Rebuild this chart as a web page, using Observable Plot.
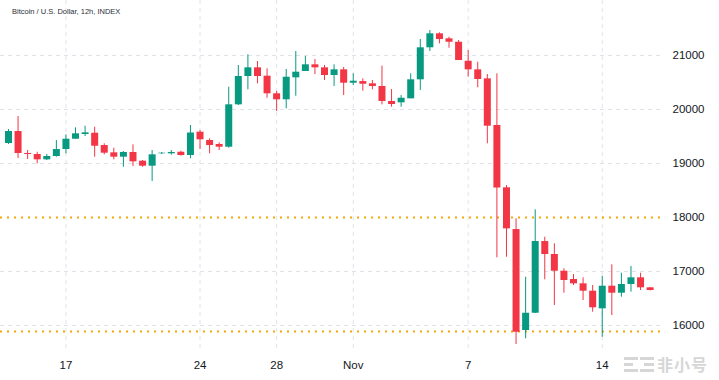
<!DOCTYPE html>
<html>
<head>
<meta charset="utf-8">
<script src="https://cdn.jsdelivr.net/npm/d3@7"></script>
<script src="https://cdn.jsdelivr.net/npm/@observablehq/plot@0.6"></script>
<style>
  body { margin: 0; background: #fff; }
  #wrap { position: relative; width: 719px; height: 380px; overflow: hidden; font-family: "Liberation Sans", Arial, sans-serif; }
  #title { position: absolute; left: 12px; top: 7px; font-size: 7.5px; color: #2a2e39; white-space: nowrap; }
  #wm { position: absolute; left: 624px; top: 352px; display: flex; align-items: center; gap: 3px; color: #d6d6d6; }
  #wm .logo { width: 30px; height: 16px; position: relative; }
  #wm .logo span { position: absolute; background: #d6d6d6; }
  #wm .txt { font-family: "Noto Sans CJK SC", sans-serif; font-weight: 700; font-size: 16px; letter-spacing: 1px; }
</style>
</head>
<body>
<div id="wrap">
  <div id="chart"></div>
  <div id="title">Bitcoin / U.S. Dollar, 12h, INDEX</div>
  <div id="wm">
    <div class="logo">
      <span style="left:0;top:1px;width:14px;height:3px"></span>
      <span style="left:0;top:7px;width:9px;height:3px"></span>
      <span style="left:0;top:13px;width:14px;height:3px"></span>
      <span style="left:16px;top:1px;width:14px;height:3px"></span>
      <span style="left:20px;top:7px;width:10px;height:3px"></span>
      <span style="left:16px;top:13px;width:14px;height:3px"></span>
    </div>
    <div class="txt">非小号</div>
  </div>
</div>
<script>
// 12h candles starting 2022-10-14 00:00 UTC
const startTime = "2022-10-14T00:00:00Z";
const open  = [19370,19593,19185,19167,19068,19130,19259,19450,19537,19561,19333,19198,19117,19204,19043,18950,19180,19180,19209,19148,
               19580,19426,19352,19302,20087,20611,20772,20617,20291,20180,20587,20704,20828,20772,20630,20735,20487,20518,20476,20426,
               20148,20124,20198,20550,21143,21402,21309,21246,20894,20735,20568,19704,18550,17777,15907,16227,17555,17315,17005,16852,
               16772,16635,16309,16728,16598,16759,16883,16698];
const high  = [19630,19870,19241,19209,19167,19426,19531,19661,19691,19672,19365,19283,19222,19346,19056,19241,19204,19241,19228,19704,
               19611,19457,19383,20413,20815,21013,20889,20754,20333,20741,21074,20981,20926,20815,20828,20778,20661,20568,20537,20802,
               20370,20259,20661,21296,21463,21420,21339,21278,21093,20876,20648,20661,18592,17976,16894,18142,17635,17513,17050,16944,
               16883,16741,16907,17124,16968,17093,16968,16704];
const low   = [19352,19092,19074,18994,19055,19117,19180,19444,19500,19117,19161,19068,18931,18944,18931,18666,19167,19154,19135,19087,
               19259,19180,19241,19283,20074,20365,20476,20209,19963,20013,20246,20704,20648,20537,20426,20259,20444,20339,20365,20087,
               20043,20043,20198,20352,21074,21217,21135,20907,20598,20402,19365,17253,17265,15648,15753,16222,16846,16370,16598,16741,
               16463,16246,15783,16185,16524,16617,16648,16639];
const close = [19593,19185,19167,19068,19130,19259,19450,19550,19568,19320,19191,19117,19204,19031,18950,19161,19191,19204,19148,19565,
               19439,19333,19302,20087,20611,20772,20611,20291,20180,20598,20691,20828,20772,20630,20735,20487,20524,20468,20426,20148,
               20093,20209,20550,21143,21402,21296,21246,20907,20735,20556,19691,18546,17790,15875,16227,17555,17315,17005,16833,16772,
               16635,16328,16728,16598,16759,16883,16698,16648];

const levelLines = [18000, 15890];
const yTicks = [16000, 17000, 18000, 19000, 20000, 21000];
const xTickDates = ["2022-10-17", "2022-10-24", "2022-10-28", "2022-11-01", "2022-11-07", "2022-11-14"];
const xTickLabels = ["17", "24", "28", "Nov", "7", "14"];

const t0 = new Date(startTime);
const candles = open.map((o, i) => ({
  date: d3.utcHour.offset(t0, 12 * i),
  open: o, high: high[i], low: low[i], close: close[i],
  up: close[i] >= o
}));
const xTicks = xTickDates.map(d => new Date(d + "T00:00:00Z"));
const labelOf = new Map(xTicks.map((d, i) => [+d, xTickLabels[i]]));

const GREEN = "#089981", RED = "#f23645";

const chart = Plot.plot({
  width: 719,
  height: 380,
  marginLeft: 0,
  marginRight: 59,
  marginTop: 0,
  marginBottom: 30,
  style: { fontFamily: "Liberation Sans, Arial, sans-serif", background: "#fff" },
  x: { type: "utc", domain: [new Date("2022-10-13T14:00:00Z"), new Date("2022-11-17T01:00:00Z")] },
  y: { domain: [15537, 22019] },
  marks: [
    Plot.gridX(xTicks, { stroke: "#dfe2e8", strokeOpacity: 1, strokeDasharray: "4,4" }),
    Plot.gridY(yTicks.filter(v => !levelLines.includes(v)), { stroke: "#dfe2e8", strokeOpacity: 1, strokeDasharray: "4,4" }),
    Plot.ruleY(levelLines, { stroke: "#f6a609", strokeWidth: 2, strokeDasharray: "2,5" }),
    Plot.ruleX(candles, { x: "date", y1: "low", y2: "high", stroke: d => d.up ? GREEN : RED, strokeWidth: 1 }),
    Plot.ruleX(candles, { x: "date", y1: "open", y2: "close", stroke: d => d.up ? GREEN : RED, strokeWidth: 7 }),
    Plot.axisY(yTicks, { anchor: "right", tickSize: 0, tickPadding: 12, tickFormat: d3.format("d"), fontSize: 11.5, fill: "#131722" }),
    Plot.axisX(xTicks, { anchor: "bottom", tickSize: 0, tickPadding: 10, tickFormat: d => labelOf.get(+d), fontSize: 11.5, fill: "#131722" })
  ]
});
document.getElementById("chart").appendChild(chart);
</script>
</body>
</html>
